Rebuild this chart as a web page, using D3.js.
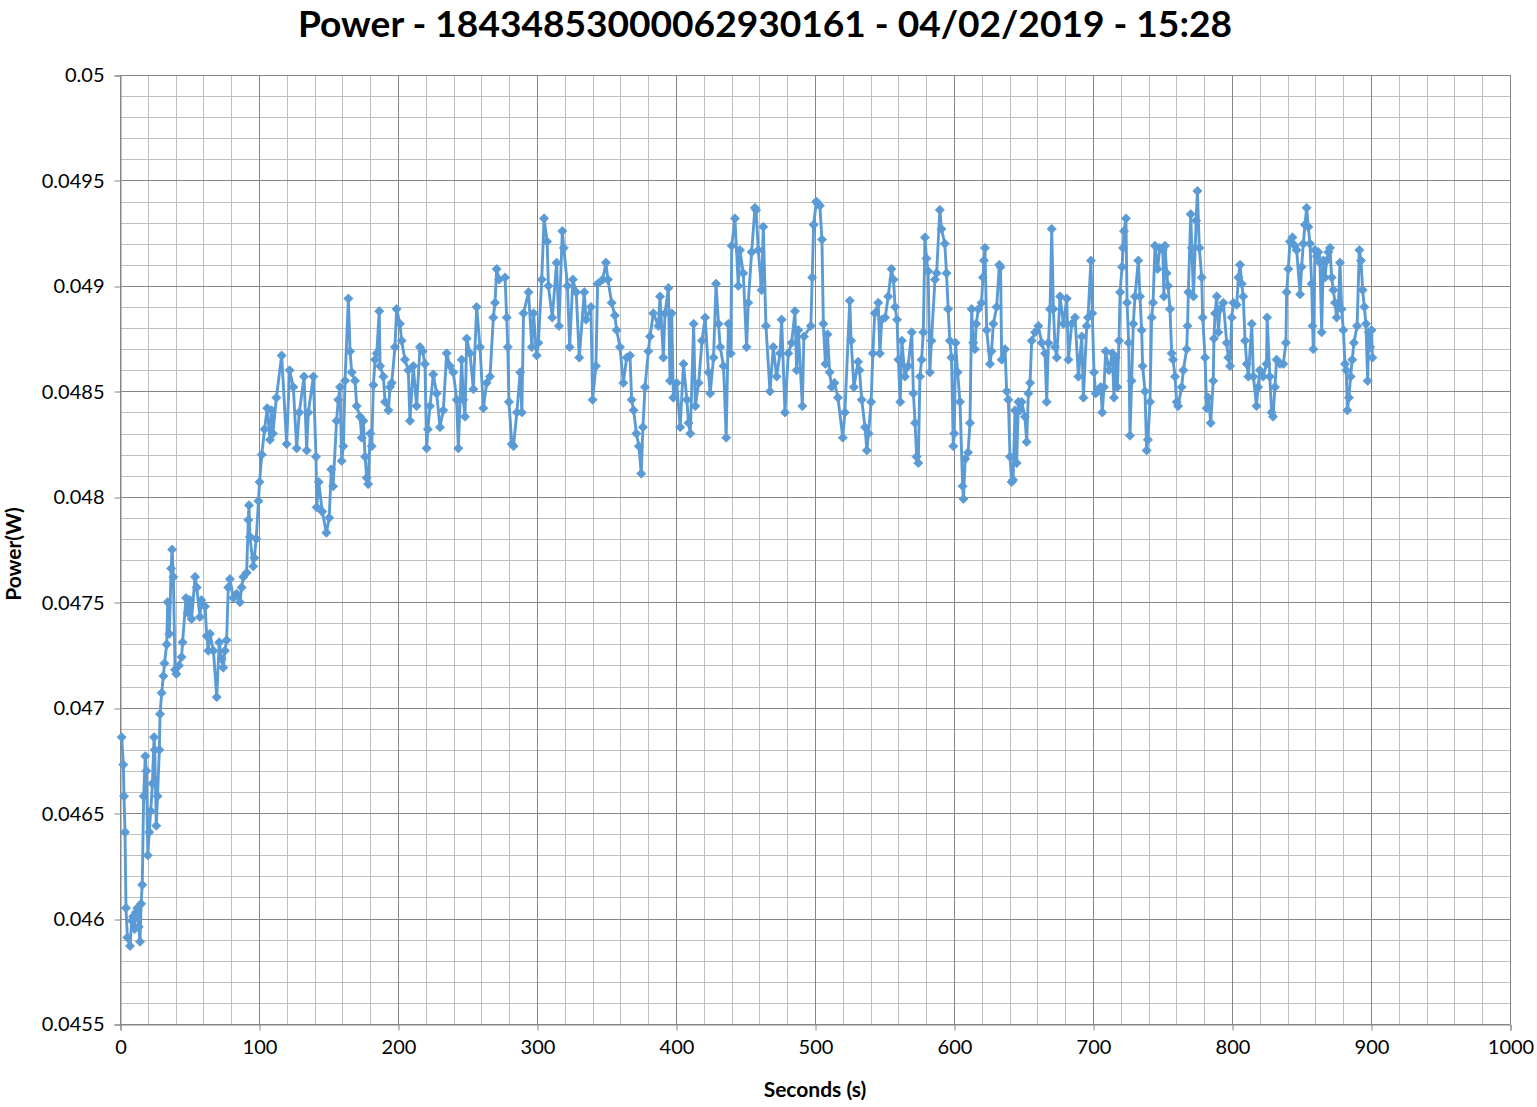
<!DOCTYPE html>
<html><head><meta charset="utf-8">
<script src="https://cdn.jsdelivr.net/npm/d3@7"></script>
<style>body{margin:0;background:#fff}svg{display:block}</style>
</head><body>
<svg id="chart" width="1537" height="1107"></svg>
<script>
const chartTitle = "Power - 18434853000062930161 - 04/02/2019 - 15:28";
const xAxisTitle = "Seconds (s)";
const yAxisTitle = "Power(W)";
const xTickValues = [0,100,200,300,400,500,600,700,800,900,1000];
const yTickValues = [0.0455,0.046,0.0465,0.047,0.0475,0.048,0.0485,0.049,0.0495,0.05];
const yTickLabels = ["0.0455","0.046","0.0465","0.047","0.0475","0.048","0.0485","0.049","0.0495","0.05"];

const seconds = [1.2,2.4,2.9,3.6,4.3,5.3,7.2,8.4,9.5,10.5,11.5,12.5,13.5,14.4,15.2,16.0,17.0,18.2,19.0,20.0,21.0,22.1,23.3,24.5,25.0,26.1,27.0,28.3,28.8,30.0,31.2,32.0,33.6,34.3,35.5,36.8,37.5,38.4,39.6,40.5,42.4,44.3,45.0,47.5,48.7,50.4,51.5,54.0,55.2,57.5,58.5,61.2,62.4,63.5,64.7,67.2,69.6,71.4,73.1,74.3,75.5,76.7,77.9,79.1,81.5,83.9,86.3,87.5,88.7,91.1,92.3,92.8,93.5,95.9,96.6,98.0,99.6,100.4,102.0,104.0,105.9,107.9,109.0,110.0,112.5,116.3,119.9,122.0,124.7,127.1,129.0,132.4,134.3,135.5,139.1,141.0,141.5,143.0,145.5,148.5,150.5,152.0,153.3,155.8,157.0,158.3,159.5,160.7,161.9,164.3,165.5,166.7,169.1,170.3,172.7,173.9,175.1,176.3,177.5,178.5,180.0,181.1,182.3,183.5,184.7,186.5,187.1,189.5,190.7,193.1,194.2,195.5,197.8,199.0,201.4,202.6,205.0,207.4,208.6,211.0,213.4,215.8,217.7,219.4,220.6,221.5,223.0,225.4,227.8,230.2,232.6,235.0,237.4,239.8,242.2,243.4,245.8,247.0,248.2,249.4,251.8,254.2,256.6,259.0,261.4,263.8,266.2,268.6,269.8,271.0,272.7,277.0,278.2,279.0,279.8,281.9,283.1,285.5,287.9,289.1,290.3,293.9,296.3,297.5,299.8,301.0,303.4,305.1,307.3,308.2,311.0,314.1,315.8,318.2,319.3,321.9,323.5,325.8,328.2,330.4,334.0,335.3,338.8,340.0,342.4,343.6,347.2,349.6,351.0,353.7,356.0,357.3,359.7,362.1,364.5,366.9,368.1,369.5,371.5,373.3,375.0,376.2,377.7,380.1,381.3,383.7,387.3,388.5,390.9,392.1,394.5,395.7,396.9,398.1,400.5,403.0,405.4,407.8,409.0,410.3,412.7,413.9,416.3,418.7,421.0,423.4,424.6,427.0,428.8,430.6,431.8,434.2,436.1,437.7,439.4,440.1,442.4,444.8,446.0,448.4,450.8,452.0,454.4,456.8,457.6,459.2,461.6,462.8,464.7,467.6,470.0,472.4,474.8,476.0,478.4,480.8,483.2,485.6,486.8,488.0,490.9,492.0,497.0,498.0,499.0,501.0,502.0,503.5,505.0,506.0,507.5,509.0,510.5,512.0,514.0,516.5,520.0,521.5,525.0,526.0,528.0,531.0,532.0,533.6,536.0,537.3,538.5,540.4,541.6,543.0,545.5,546.7,548.0,550.5,552.7,555.0,556.5,557.6,559.0,560.0,561.3,562.5,564.7,567.0,569.6,570.8,572.0,573.1,574.3,575.5,576.7,577.9,579.1,580.2,581.4,582.6,583.8,586.3,587.5,589.8,591.0,593.4,594.6,595.8,597.0,598.2,599.5,600.2,601.1,602.6,604.3,606.2,606.8,608.1,610.1,611.5,612.7,613.8,615.0,616.0,617.5,619.8,620.8,621.5,622.3,623.5,625.9,627.0,628.3,630.7,632.6,633.5,634.3,636.7,637.9,639.1,640.3,641.5,642.5,643.9,645.1,646.3,647.5,648.7,651.0,652.3,653.5,654.7,655.9,658.3,660.7,663.1,665.5,666.7,667.9,669.1,670.3,671.5,672.7,673.9,676.3,678.7,681.1,682.3,684.7,687.1,689.5,691.9,693.1,695.5,696.4,698.5,699.5,700.7,701.9,703.1,705.5,706.7,707.9,709.1,711.5,713.9,715.1,716.3,717.5,718.7,719.5,720.9,721.6,722.3,723.7,724.5,725.7,726.6,727.8,729.0,730.2,732.6,733.8,735.0,735.7,737.4,738.6,739.5,741.0,742.2,743.2,744.6,746.5,748.0,750.2,751.0,751.8,753.0,754.0,755.4,756.6,757.6,759.0,760.2,761.2,763.8,765.0,767.4,768.0,768.6,770.3,771.1,772.3,774.2,775.1,776.5,778.2,778.9,780.6,781.8,783.0,784.7,786.5,787.0,787.8,789.0,790.2,791.4,793.8,796.2,797.4,798.6,799.8,801.0,803.4,804.6,805.8,807.0,808.1,809.4,810.6,811.8,814.2,815.4,817.6,818.8,820.0,822.4,824.8,825.3,827.2,828.5,829.5,830.9,832.1,834.5,836.9,838.8,839.3,840.5,841.7,843.5,845.3,846.5,849.0,850.1,851.3,852.5,853.7,854.9,856.1,857.3,858.0,858.5,859.7,860.9,862.1,863.3,864.5,865.7,866.9,868.1,869.3,870.5,871.7,872.9,874.1,875.3,876.5,877.7,878.9,880.1,881.3,882.2,883.0,884.1,885.3,886.5,887.7,890.0,891.6,892.8,894.0,895.2,896.4,897.6,898.4,899.4,900.4,901.0];

const power = [0.04686,0.04673,0.04658,0.04641,0.04605,0.04591,0.04587,0.04599,0.04601,0.04595,0.04603,0.04605,0.04596,0.04589,0.04607,0.04616,0.04658,0.04677,0.04670,0.04630,0.04641,0.04651,0.04664,0.04686,0.04680,0.04644,0.04658,0.04680,0.04697,0.04707,0.04715,0.04721,0.04730,0.04750,0.04735,0.04766,0.04775,0.04762,0.04718,0.04716,0.04720,0.04724,0.04731,0.04752,0.04745,0.04751,0.04742,0.04762,0.04757,0.04743,0.04751,0.04748,0.04734,0.04727,0.04735,0.04727,0.04705,0.04731,0.04723,0.04719,0.04727,0.04732,0.04757,0.04761,0.04752,0.04754,0.04750,0.04757,0.04762,0.04764,0.04789,0.04796,0.04781,0.04767,0.04771,0.04780,0.04798,0.04807,0.04820,0.04832,0.04842,0.04827,0.04841,0.04830,0.04847,0.04867,0.04825,0.04860,0.04852,0.04823,0.04840,0.04857,0.04822,0.04840,0.04857,0.04819,0.04795,0.04807,0.04793,0.04783,0.04790,0.04813,0.04805,0.04836,0.04846,0.04852,0.04817,0.04824,0.04855,0.04894,0.04869,0.04859,0.04855,0.04843,0.04838,0.04828,0.04836,0.04819,0.04809,0.04806,0.04830,0.04824,0.04853,0.04865,0.04868,0.04888,0.04862,0.04857,0.04845,0.04841,0.04852,0.04854,0.04871,0.04889,0.04882,0.04874,0.04865,0.04860,0.04836,0.04862,0.04843,0.04871,0.04869,0.04863,0.04823,0.04832,0.04843,0.04858,0.04849,0.04833,0.04841,0.04868,0.04862,0.04859,0.04846,0.04823,0.04865,0.04846,0.04838,0.04875,0.04868,0.04851,0.04890,0.04871,0.04842,0.04854,0.04857,0.04885,0.04892,0.04908,0.04903,0.04904,0.04885,0.04871,0.04845,0.04825,0.04824,0.04840,0.04859,0.04840,0.04887,0.04897,0.04871,0.04887,0.04867,0.04873,0.04903,0.04932,0.04921,0.04900,0.04885,0.04911,0.04881,0.04926,0.04918,0.04900,0.04871,0.04903,0.04897,0.04866,0.04897,0.04884,0.04890,0.04846,0.04862,0.04901,0.04903,0.04911,0.04903,0.04892,0.04886,0.04879,0.04871,0.04854,0.04866,0.04867,0.04846,0.04841,0.04830,0.04824,0.04811,0.04833,0.04852,0.04869,0.04876,0.04887,0.04881,0.04895,0.04866,0.04887,0.04899,0.04855,0.04887,0.04847,0.04854,0.04833,0.04863,0.04846,0.04835,0.04830,0.04882,0.04843,0.04854,0.04874,0.04885,0.04859,0.04849,0.04866,0.04901,0.04882,0.04871,0.04862,0.04828,0.04882,0.04868,0.04919,0.04932,0.04900,0.04917,0.04906,0.04871,0.04892,0.04916,0.04937,0.04936,0.04917,0.04898,0.04928,0.04881,0.04850,0.04871,0.04857,0.04868,0.04884,0.04840,0.04868,0.04873,0.04888,0.04860,0.04879,0.04843,0.04876,0.04881,0.04904,0.04929,0.04940,0.04939,0.04938,0.04922,0.04882,0.04863,0.04877,0.04859,0.04852,0.04854,0.04847,0.04828,0.04840,0.04893,0.04874,0.04852,0.04864,0.04860,0.04846,0.04833,0.04822,0.04830,0.04845,0.04868,0.04887,0.04892,0.04868,0.04884,0.04885,0.04895,0.04908,0.04903,0.04890,0.04884,0.04865,0.04845,0.04874,0.04857,0.04862,0.04878,0.04849,0.04835,0.04819,0.04816,0.04857,0.04865,0.04878,0.04923,0.04913,0.04907,0.04859,0.04874,0.04903,0.04906,0.04936,0.04927,0.04920,0.04906,0.04889,0.04874,0.04866,0.04824,0.04830,0.04873,0.04859,0.04845,0.04805,0.04799,0.04818,0.04821,0.04835,0.04889,0.04873,0.04870,0.04882,0.04889,0.04892,0.04904,0.04912,0.04918,0.04879,0.04863,0.04869,0.04882,0.04890,0.04910,0.04909,0.04865,0.04870,0.04850,0.04846,0.04819,0.04807,0.04808,0.04841,0.04816,0.04845,0.04841,0.04845,0.04838,0.04826,0.04849,0.04854,0.04874,0.04878,0.04881,0.04873,0.04868,0.04845,0.04873,0.04889,0.04927,0.04889,0.04871,0.04866,0.04895,0.04882,0.04894,0.04865,0.04882,0.04885,0.04857,0.04876,0.04847,0.04881,0.04885,0.04912,0.04887,0.04859,0.04849,0.04850,0.04852,0.04840,0.04852,0.04869,0.04860,0.04868,0.04847,0.04866,0.04852,0.04874,0.04897,0.04909,0.04918,0.04926,0.04932,0.04892,0.04873,0.04829,0.04855,0.04882,0.04895,0.04912,0.04895,0.04879,0.04862,0.04850,0.04822,0.04827,0.04845,0.04885,0.04892,0.04919,0.04908,0.04918,0.04917,0.04895,0.04919,0.04906,0.04900,0.04889,0.04868,0.04865,0.04857,0.04845,0.04843,0.04852,0.04860,0.04870,0.04881,0.04897,0.04934,0.04918,0.04895,0.04931,0.04945,0.04918,0.04904,0.04885,0.04866,0.04842,0.04847,0.04835,0.04855,0.04875,0.04887,0.04895,0.04878,0.04889,0.04892,0.04873,0.04866,0.04862,0.04885,0.04892,0.04891,0.04904,0.04910,0.04901,0.04895,0.04874,0.04863,0.04857,0.04882,0.04857,0.04843,0.04852,0.04860,0.04857,0.04863,0.04885,0.04857,0.04840,0.04838,0.04852,0.04865,0.04863,0.04863,0.04873,0.04897,0.04908,0.04921,0.04923,0.04919,0.04917,0.04896,0.04909,0.04920,0.04929,0.04937,0.04928,0.04920,0.04901,0.04881,0.04870,0.04917,0.04914,0.04916,0.04911,0.04878,0.04912,0.04904,0.04912,0.04916,0.04918,0.04904,0.04898,0.04892,0.04885,0.04890,0.04911,0.04889,0.04879,0.04863,0.04860,0.04841,0.04847,0.04857,0.04865,0.04873,0.04881,0.04917,0.04912,0.04898,0.04890,0.04882,0.04855,0.04878,0.04871,0.04879,0.04866];

const svg = d3.select("#chart");
const x = d3.scaleLinear().domain([0, 1000]).range([120, 1510]);
const y = d3.scaleLinear().domain([0.0455, 0.05]).range([1024, 75]);
const font = "Lato, 'Open Sans', sans-serif";

const minorColor = "#bfbfbf", majorColor = "#868686";
const grid = svg.append("g");
grid.selectAll(".mx").data(x.ticks(50)).join("line")
  .attr("x1", d => Math.round(x(d)) + 0.5).attr("x2", d => Math.round(x(d)) + 0.5)
  .attr("y1", y.range()[1]).attr("y2", y.range()[0])
  .attr("stroke", minorColor).attr("stroke-width", 1);
grid.selectAll(".my").data(y.ticks(45)).join("line")
  .attr("y1", d => Math.round(y(d)) + 0.5).attr("y2", d => Math.round(y(d)) + 0.5)
  .attr("x1", x.range()[0]).attr("x2", x.range()[1])
  .attr("stroke", minorColor).attr("stroke-width", 1);
grid.selectAll(".Mx").data(xTickValues).join("line")
  .attr("x1", d => Math.round(x(d)) + 0.5).attr("x2", d => Math.round(x(d)) + 0.5)
  .attr("y1", y.range()[1]).attr("y2", y.range()[0])
  .attr("stroke", majorColor).attr("stroke-width", 1);
grid.selectAll(".My").data(yTickValues).join("line")
  .attr("y1", d => Math.round(y(d)) + 0.5).attr("y2", d => Math.round(y(d)) + 0.5)
  .attr("x1", x.range()[0]).attr("x2", x.range()[1])
  .attr("stroke", majorColor).attr("stroke-width", 1);

const xAxis = d3.axisBottom(x).tickValues(xTickValues).tickSize(6).tickPadding(9).tickFormat(d3.format("d"));
const gx = svg.append("g").attr("transform", `translate(0.5,${Math.round(y(0.0455)) + 0.5})`).call(xAxis);
const yAxis = d3.axisLeft(y).tickValues(yTickValues).tickSize(6).tickPadding(10).tickFormat((d, i) => yTickLabels[i]);
const gy = svg.append("g").attr("transform", `translate(${Math.round(x(0)) + 0.5},0.5)`).call(yAxis);
[gx, gy].forEach(g => {
  g.select(".domain").attr("stroke", majorColor);
  g.selectAll(".tick line").attr("stroke", majorColor);
  g.selectAll(".tick text").attr("fill", "#000").style("font-family", font).style("font-size", "20px");
});
gx.selectAll(".tick line").attr("transform", d => `translate(${Math.round(x(d)) - x(d)},0)`);
gy.selectAll(".tick line").attr("transform", d => `translate(0,${Math.round(y(d)) - y(d)})`);

const pts = seconds.map((t, i) => [t, power[i]]);
const line = d3.line().x(d => x(d[0])).y(d => y(d[1]));
svg.append("path").datum(pts).attr("d", line)
  .attr("fill", "none").attr("stroke", "#5b9bd5").attr("stroke-width", 2.9).attr("stroke-linejoin", "round");
svg.append("g").selectAll("path").data(pts).join("path")
  .attr("transform", d => `translate(${x(d[0])},${y(d[1])})`)
  .attr("d", d3.symbol(d3.symbolDiamond2, 54)())
  .attr("fill", "#5b9bd5").attr("stroke", "#5b9bd5").attr("stroke-width", 0.8);

const tt = svg.append("text").text(chartTitle)
  .attr("x", 765).attr("y", 37).attr("text-anchor", "middle")
  .style("font-family", font).style("font-weight", "bold").style("font-size", "36px");
const tw = tt.node().getComputedTextLength();
tt.style("font-size", (36 * 934 / tw) + "px");

svg.append("text").text(xAxisTitle).attr("x", 815).attr("y", 1097).attr("text-anchor", "middle")
  .style("font-family", font).style("font-weight", "bold").style("font-size", "21px");
svg.append("text").text(yAxisTitle)
  .attr("transform", "translate(21,554) rotate(-90)").attr("text-anchor", "middle")
  .style("font-family", font).style("font-weight", "bold").style("font-size", "21px");
</script>
</body></html>
